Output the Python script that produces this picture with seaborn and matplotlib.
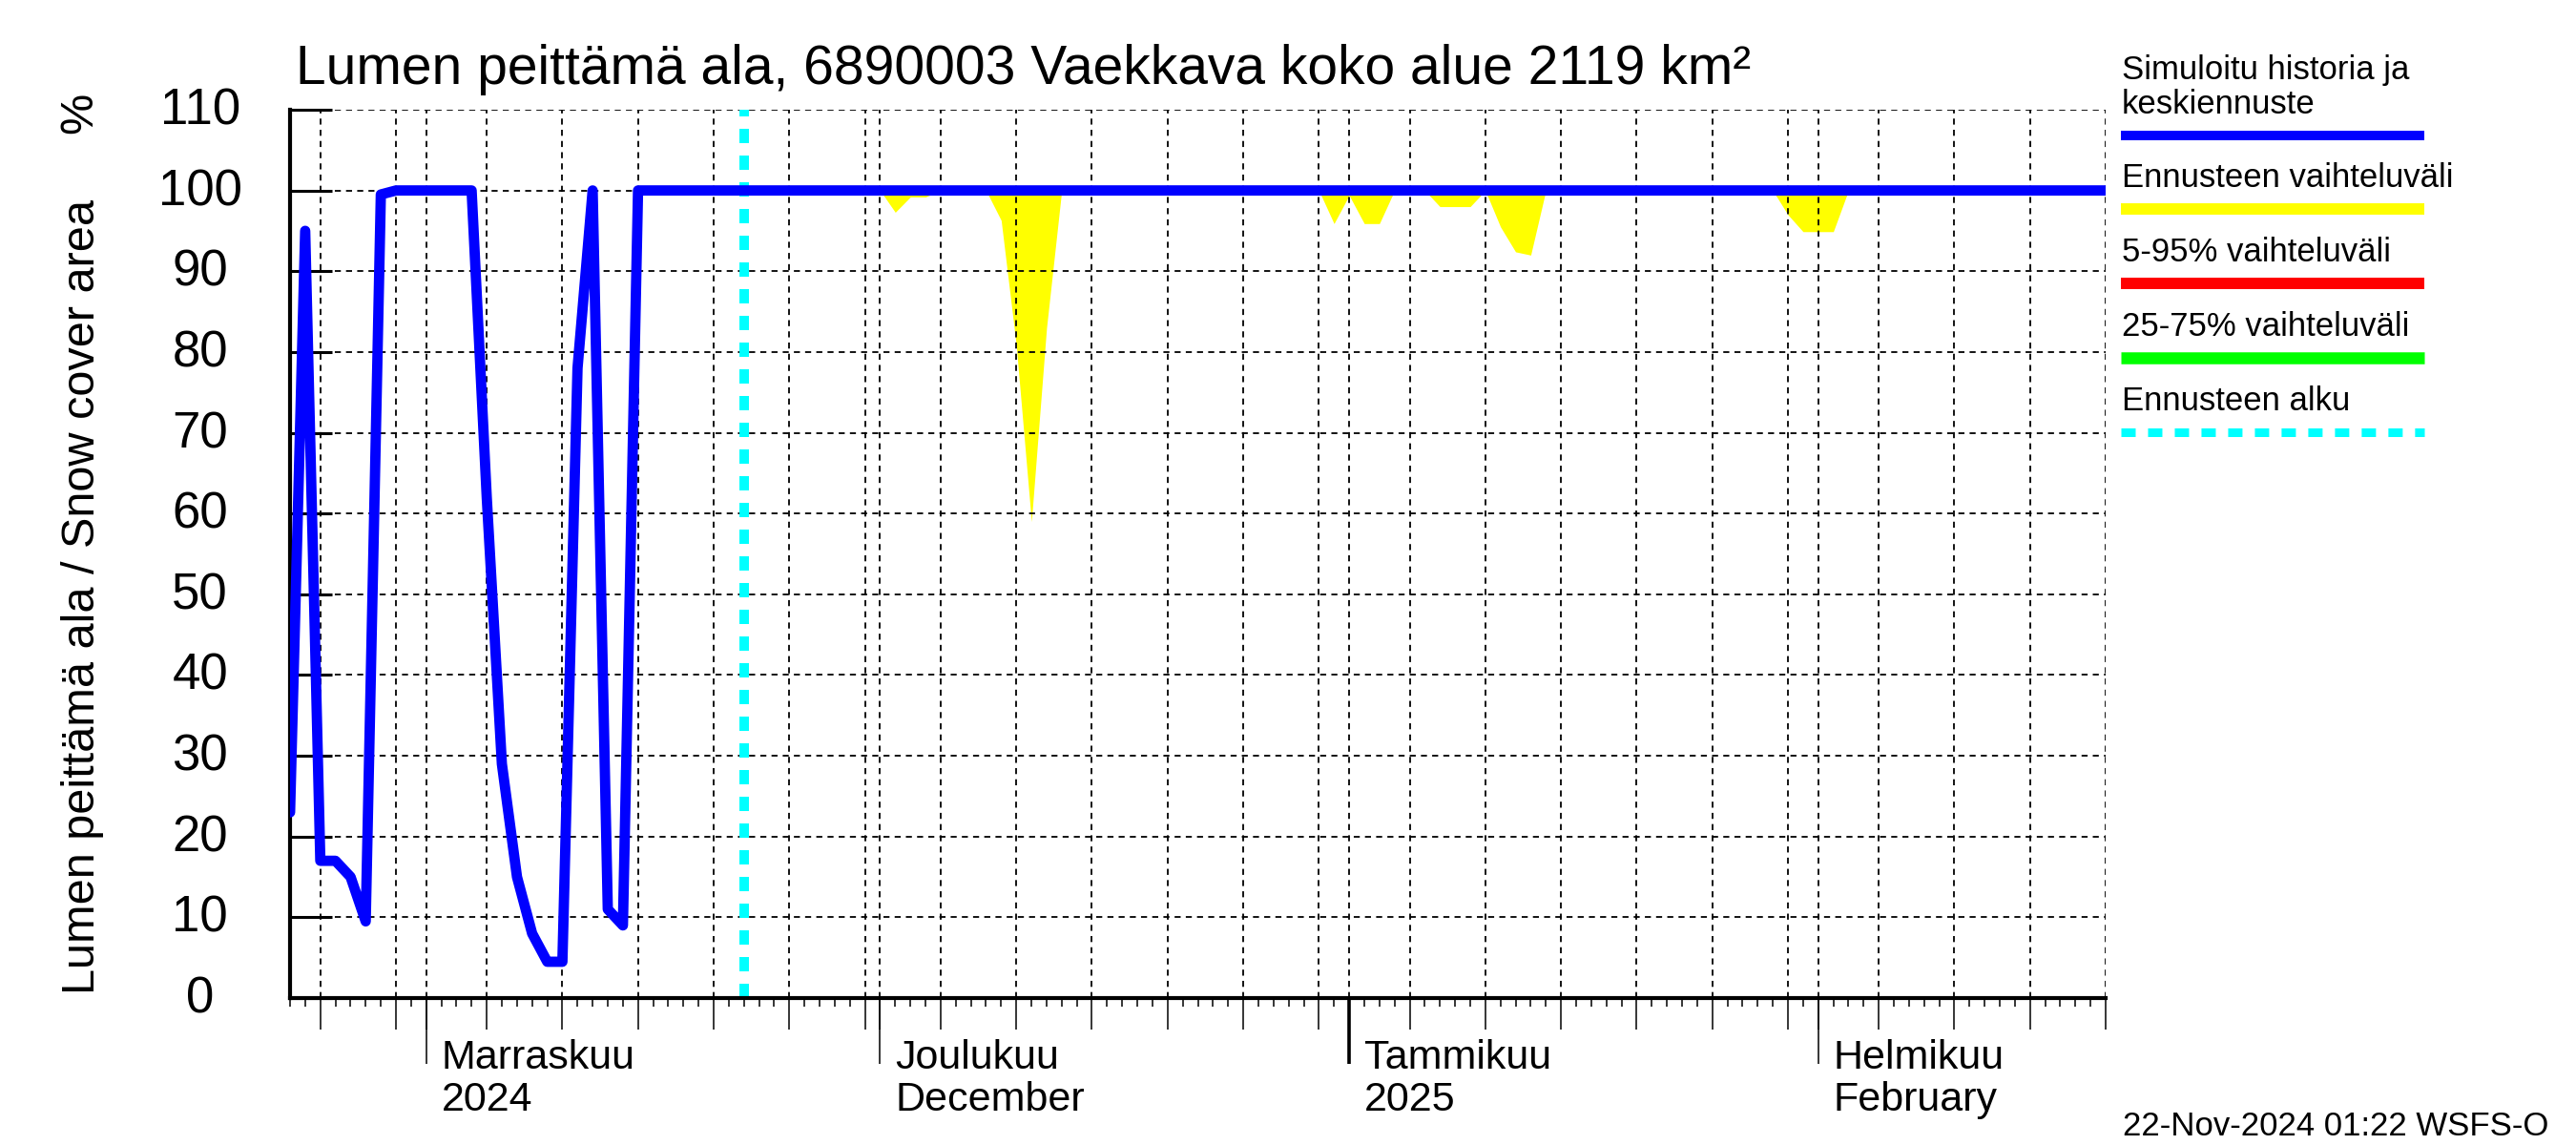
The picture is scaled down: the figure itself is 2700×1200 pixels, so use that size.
import numpy as np
import pandas as pd
import matplotlib
matplotlib.use("Agg")
import matplotlib.pyplot as plt
import matplotlib.dates as mdates
from matplotlib.lines import Line2D
from matplotlib.transforms import ScaledTranslation
import seaborn as sns

# ---------------- data ----------------
sim_dates = ["2024-10-23", "2024-10-24", "2024-10-25", "2024-10-26", "2024-10-27",
             "2024-10-28", "2024-10-29", "2024-10-30", "2024-10-31", "2024-11-01",
             "2024-11-02", "2024-11-03", "2024-11-04", "2024-11-05", "2024-11-06",
             "2024-11-07", "2024-11-08", "2024-11-09", "2024-11-10", "2024-11-11",
             "2024-11-12", "2024-11-13", "2024-11-14", "2024-11-15", "2025-02-20"]
sim_values = [23, 95, 17, 17, 15,
              9.5, 99.5, 100, 100, 100,
              100, 100, 100, 62, 29,
              15, 8, 4.5, 4.5, 78,
              100, 11, 9, 100, 100]

fc_dates = ["2024-11-22", "2024-12-01", "2024-12-02", "2024-12-03", "2024-12-04",
            "2024-12-05", "2024-12-08", "2024-12-09", "2024-12-10", "2024-12-11",
            "2024-12-12", "2024-12-13", "2024-12-30", "2024-12-31", "2025-01-01",
            "2025-01-02", "2025-01-03", "2025-01-04", "2025-01-06", "2025-01-07",
            "2025-01-08", "2025-01-09", "2025-01-10", "2025-01-11", "2025-01-12",
            "2025-01-13", "2025-01-14", "2025-01-29", "2025-01-30", "2025-01-31",
            "2025-02-01", "2025-02-02", "2025-02-03", "2025-02-20"]
fc_low = [100, 100, 97.3, 99.2, 99.2,
          100, 100, 96.3, 80.8, 59,
          83, 100, 100, 95.9, 99.4,
          95.9, 95.9, 100, 100, 98,
          98, 98, 100, 95.5, 92.4,
          92, 100, 100, 97, 94.9,
          94.9, 94.9, 100, 100]
fc_high = 100

forecast_start = "2024-11-22"
x_start = "2024-10-23"
x_end = "2025-02-20"

month_dates = ["2024-11-01", "2024-12-01", "2025-01-01", "2025-02-01"]
month_labels = ["Marraskuu\n2024", "Joulukuu\nDecember", "Tammikuu\n2025", "Helmikuu\nFebruary"]
grid_days_of_month = [1, 5, 10, 15, 20, 25, 30]
y_ticks = [0, 10, 20, 30, 40, 50, 60, 70, 80, 90, 100, 110]

title = "Lumen peittämä ala, 6890003 Vaekkava koko alue 2119 km²"
ylabel = "Lumen peittämä ala / Snow cover area"
stamp = "22-Nov-2024 01:22 WSFS-O"

legend_labels = ["Simuloitu historia ja\nkeskiennuste", "Ennusteen vaihteluväli",
                 "5-95% vaihteluväli", "25-75% vaihteluväli", "Ennusteen alku"]
legend_colors = ["#0000ff", "#ffff00", "#ff0000", "#00ff00", "#00ffff"]

# ---------------- style ----------------
sns.set_theme(style="white")
plt.rcParams["font.family"] = ["Liberation Sans", "DejaVu Sans"]
plt.rcParams["text.color"] = "black"

fig = plt.figure(figsize=(27, 12), dpi=100)
ax = fig.add_axes([0.1126, 0.1283, 0.7048, 0.7759])
ax.set_axisbelow("line")

sim = pd.DataFrame({"date": pd.to_datetime(sim_dates), "value": sim_values})
fc = pd.DataFrame({"date": pd.to_datetime(fc_dates), "low": fc_low})

# forecast range
ax.fill_between(fc["date"], fc["low"], fc_high, color="#ffff00", lw=0, zorder=1)

# forecast start
ax.axvline(pd.Timestamp(forecast_start), color="#00ffff", lw=7.2,
           dashes=(1.5, 1.3), zorder=2)

# simulated history + mean forecast
sns.lineplot(data=sim, x="date", y="value", ax=ax, color="#0000ff",
             lw=7.8, zorder=3, legend=False)

ax.set_xlim(pd.Timestamp(x_start), pd.Timestamp(x_end))
ax.set_ylim(0, 110)
ax.set_xlabel("")
ax.set_ylabel("")

# ---------------- x axis ----------------
days = pd.date_range(x_start, x_end, freq="D")
grid_days = days[days.day.isin(grid_days_of_month)]
ax.set_xticks(grid_days)
ax.set_xticklabels([])
ax.set_xticks(days, minor=True)
ax.tick_params(axis="x", which="major", direction="out", length=24, width=1.1,
               color="black", bottom=True)
ax.tick_params(axis="x", which="minor", direction="out", length=6.5, width=1.1,
               color="black", bottom=True)

month_ts = pd.to_datetime(month_dates)
for d, lab in zip(month_ts, month_labels):
    xd = mdates.date2num(d)
    ax.plot([xd, xd], [0, -0.0744], transform=ax.get_xaxis_transform(),
            color="black", lw=2.6 if d.month == 1 else 1.1,
            clip_on=False, solid_capstyle="butt")
    ax.text(xd, -0.046, lab,
            transform=ax.get_xaxis_transform() + ScaledTranslation(0.16, 0, fig.dpi_scale_trans),
            ha="left", va="top", fontsize=31, linespacing=1.13, color="black")

# ---------------- y axis ----------------
ax.set_yticks(y_ticks)
ax.set_yticklabels([str(v) for v in y_ticks], ha="center")
ax.tick_params(axis="y", which="major", direction="in", length=32, width=2.2,
               pad=68, labelsize=38, left=True, color="black", labelcolor="black")

for side in ["top", "right"]:
    ax.spines[side].set_visible(False)
for side in ["left", "bottom"]:
    ax.spines[side].set_color("black")
    ax.spines[side].set_linewidth(3)

ax.grid(True, which="major", axis="both", color="black",
        linestyle=(0, (3.5, 3)), lw=1.3)

for lab in ax.get_yticklabels():
    lab.set_transform(lab.get_transform() + ScaledTranslation(0, 0.04, fig.dpi_scale_trans))

# ---------------- texts ----------------
fig.text(0.1148, 0.9267, title, fontsize=41, ha="left", va="baseline")
fig.text(0.032, 0.132, ylabel, rotation=90, fontsize=35, ha="center", va="bottom")
fig.text(0.031, 0.901, "%", rotation=90, fontsize=35, ha="center", va="center")
fig.text(0.8241, 0.008, stamp, fontsize=25, ha="left", va="baseline")

# ---------------- legend ----------------
leg_x0, leg_x1 = 0.8233, 0.9411
leg_line_y = [0.8819, 0.8175, 0.7525, 0.6875, 0.6225]
leg_line_w = [7.2, 8.6, 8.6, 9.0, 6.5]
for lab, col, y, w in zip(legend_labels, legend_colors, leg_line_y, leg_line_w):
    if col == "#00ffff":
        ln = Line2D([leg_x0, leg_x1], [y, y], transform=fig.transFigure,
                    color=col, lw=w, dashes=(1.66, 1.44))
    else:
        ln = Line2D([leg_x0, leg_x1], [y, y], transform=fig.transFigure,
                    color=col, lw=w, solid_capstyle="butt")
    fig.add_artist(ln)
    fig.text(leg_x0 + 0.0004, y + 16 / 1200, lab, fontsize=25, ha="left",
             va="bottom", linespacing=1.1)

fig.savefig("out.png", dpi=100)
